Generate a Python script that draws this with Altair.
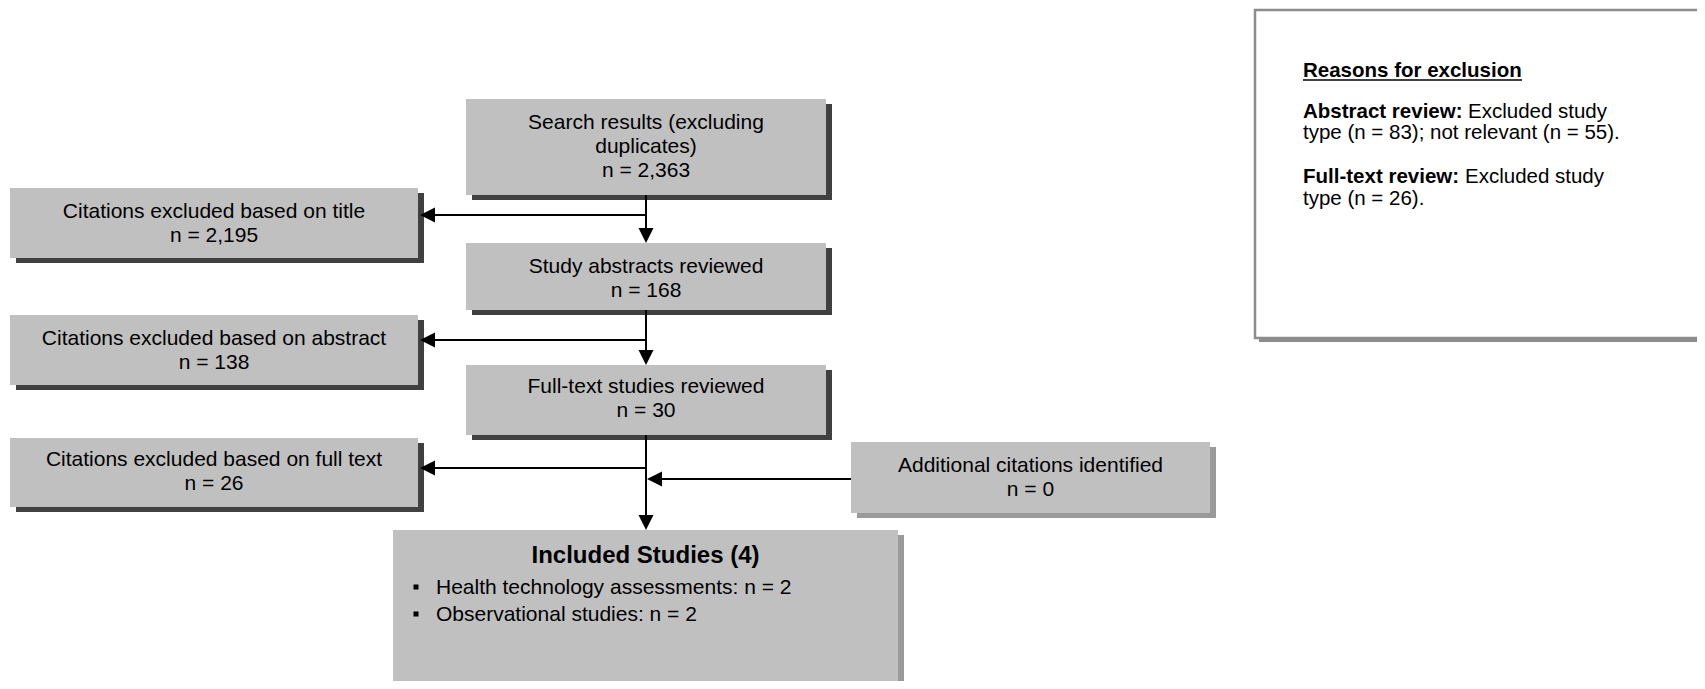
import altair as alt
import pandas as pd

# ---------------- content ----------------
stage_labels = [
    ["Search results (excluding", "duplicates)"],
    ["Citations excluded based on title"],
    ["Study abstracts reviewed"],
    ["Citations excluded based on abstract"],
    ["Full-text studies reviewed"],
    ["Citations excluded based on full text"],
    ["Additional citations identified"],
]
stage_counts = [2363, 2195, 168, 138, 30, 26, 0]

included_title = "Included Studies (4)"
included_types = ["Health technology assessments", "Observational studies"]
included_counts = [2, 2]

reasons_title = "Reasons for exclusion"
reason_heads = ["Abstract review:", "Full-text review:"]
reason_first = ["Excluded study", "Excluded study"]
reason_rest = ["type (n = 83); not relevant (n = 55).", "type (n = 26)."]

# ---------------- layout (pixel coordinates) ----------------
stage_x0 = [466, 10, 466, 10, 466, 10, 851]
stage_x1 = [826, 418, 826, 418, 826, 418, 1210]
stage_y0 = [99, 188, 243, 315, 365, 438, 442]
stage_y1 = [195, 258, 310, 385, 435, 507, 513]
stage_base = [129, 218, 273, 345, 393, 466, 472]
stage_gap = [24, 23.5, 23.5, 23.5, 23.5, 23.5, 23.5]
stage_shadow = ["#404040", "#404040", "#404040", "#404040", "#404040", "#404040", "#9a9a9a"]

inc_box = (393, 898, 530, 681)
inc_title_base = 563
inc_item_base = [594, 621]
inc_text_x = 436
inc_bullet_x = 416

reasons_box = (1255, 1699, 10, 338)
reasons_x = 1303
reasons_title_base = 77
reason_head_base = [117.5, 183]
reason_rest_offset = 21.5
reason_head_w = [165, 162]
RFS = 20.5

FS = 21
FONT = "Liberation Sans"
SDX, SDY = 6, 5

# ---------------- tables ----------------
rect_rows = []
text_rows = []
for i, (lines, n) in enumerate(zip(stage_labels, stage_counts)):
    x0, x1, y0, y1 = stage_x0[i], stage_x1[i], stage_y0[i], stage_y1[i]
    rect_rows.append(dict(x=x0 + SDX, x2=x1 + SDX, y=y0 + SDY, y2=y1 + SDY, fill=stage_shadow[i], layer=0))
    rect_rows.append(dict(x=x0, x2=x1, y=y0, y2=y1, fill="#c0c0c0", layer=1))
    all_lines = lines + [f"n = {n:,}"]
    for j, t in enumerate(all_lines):
        text_rows.append(dict(x=(x0 + x1) / 2, y=stage_base[i] + j * stage_gap[i], t=t))

ix0, ix1, iy0, iy1 = inc_box
rect_rows.append(dict(x=ix0 + SDX, x2=ix1 + SDX, y=iy0 + SDY, y2=iy1 + SDY, fill="#9a9a9a", layer=0))
rect_rows.append(dict(x=ix0, x2=ix1, y=iy0, y2=iy1, fill="#c0c0c0", layer=1))

rects = pd.DataFrame(rect_rows)
texts = pd.DataFrame(text_rows)

items = pd.DataFrame(dict(
    x=[inc_text_x] * len(included_types),
    bx=[inc_bullet_x] * len(included_types),
    y=inc_item_base,
    by=[b - 7 for b in inc_item_base],
    t=[f"{k}: n = {v}" for k, v in zip(included_types, included_counts)],
))

# connectors
segs = pd.DataFrame(dict(
    x=[646, 646, 646, 646, 646, 646, 851],
    x2=[646, 428, 646, 428, 646, 428, 655],
    y=[195, 215, 310, 340, 435, 468, 479],
    y2=[236, 215, 358, 340, 523, 468, 479],
))
HALF = 7.5
tips_x = [646, 646, 646, 420, 420, 420, 647]
tips_y = [243, 365, 530, 215, 340, 468, 479]
tips_dir = ["down", "down", "down", "left", "left", "left", "left"]
heads = pd.DataFrame(dict(
    x=[tx + (HALF if d == "left" else 0) for tx, d in zip(tips_x, tips_dir)],
    y=[ty - (HALF if d == "down" else 0) for ty, d in zip(tips_y, tips_dir)],
    shape=["M-1,-1L1,-1L0,1Z" if d == "down" else "M1,-1L1,1L-1,0Z" for d in tips_dir],
))

rx0, rx1, ry0, ry1 = reasons_box
reasons_rect = pd.DataFrame([dict(x=rx0, x2=rx1, y=ry0, y2=ry1)])
reasons_shadow = pd.DataFrame([dict(x=rx0 + 4, x2=rx1 + 4, y=ry0 + 4, y2=ry1 + 4)])
r_bold = pd.DataFrame(dict(x=[reasons_x] * 3,
                           y=[reasons_title_base] + reason_head_base,
                           t=[reasons_title] + reason_heads))
r_reg = pd.DataFrame(dict(
    x=[reasons_x + w for w in reason_head_w] + [reasons_x] * 2,
    y=reason_head_base + [b + reason_rest_offset for b in reason_head_base],
    t=reason_first + reason_rest,
))
underline = pd.DataFrame([dict(x=reasons_x, x2=reasons_x + 219, y=reasons_title_base + 3, y2=reasons_title_base + 3)])

# ---------------- chart ----------------
W, H = 1689, 673
xs = alt.Scale(domain=[8, 8 + W], nice=False, zero=False)
ys = alt.Scale(domain=[8, 8 + H], nice=False, zero=False, reverse=True)
X = alt.X("x:Q", scale=xs, axis=None)
Y = alt.Y("y:Q", scale=ys, axis=None)

rect_layer = alt.Chart(rects).mark_rect().encode(
    x=X, x2="x2:Q", y=Y, y2="y2:Q",
    fill=alt.Fill("fill:N", scale=None),
    order=alt.Order("layer:Q"),
)
rshadow = alt.Chart(reasons_shadow).mark_rect(fill="#8c8c8c").encode(x=X, x2="x2:Q", y=Y, y2="y2:Q")
rbox = alt.Chart(reasons_rect).mark_rect(fill="white", stroke="#8c8c8c", strokeWidth=2.5).encode(
    x=X, x2="x2:Q", y=Y, y2="y2:Q")

seg_layer = alt.Chart(segs).mark_rule(color="black", strokeWidth=2).encode(x=X, x2="x2:Q", y=Y, y2="y2:Q")
head_layer = alt.Chart(heads).mark_point(filled=True, color="black", opacity=1, strokeWidth=0, size=225).encode(
    x=X, y=Y, shape=alt.Shape("shape:N", scale=None))

txt = alt.Chart(texts).mark_text(font=FONT, fontSize=FS, align="center", baseline="alphabetic", color="black").encode(
    x=X, y=Y, text="t:N")

inc_title = alt.Chart(pd.DataFrame([dict(x=(ix0 + ix1) / 2, y=inc_title_base, t=included_title)])).mark_text(
    font=FONT, fontSize=24, fontWeight="bold", align="center", baseline="alphabetic", color="black").encode(
    x=X, y=Y, text="t:N")
inc_items = alt.Chart(items).mark_text(font=FONT, fontSize=FS, align="left", baseline="alphabetic", color="black").encode(
    x=X, y=Y, text="t:N")
bullets = alt.Chart(items).mark_point(shape="square", filled=True, color="black", opacity=1, size=25, strokeWidth=0).encode(
    x=alt.X("bx:Q", scale=xs, axis=None), y=alt.Y("by:Q", scale=ys, axis=None))

rb = alt.Chart(r_bold).mark_text(font=FONT, fontSize=RFS, fontWeight="bold", align="left", baseline="alphabetic", color="black").encode(
    x=X, y=Y, text="t:N")
rr = alt.Chart(r_reg).mark_text(font=FONT, fontSize=RFS, align="left", baseline="alphabetic", color="black").encode(
    x=X, y=Y, text="t:N")
ul = alt.Chart(underline).mark_rule(color="black", strokeWidth=1.6).encode(x=X, x2="x2:Q", y=Y, y2="y2:Q")

chart = alt.layer(
    rshadow, rbox, rect_layer, seg_layer, head_layer, txt, inc_title, inc_items, bullets, rb, rr, ul
).properties(
    width=W, height=H, padding=0, autosize=alt.AutoSizeParams(type="none"), background="white"
).configure_view(stroke=None)

chart.save("out.html", embed_options={"renderer": "svg", "actions": False})
